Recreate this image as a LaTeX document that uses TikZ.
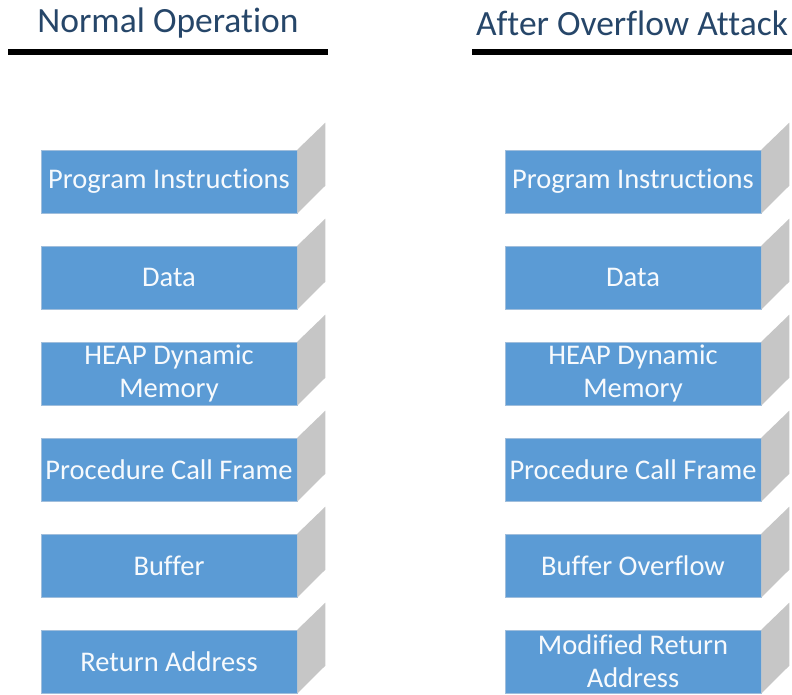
\documentclass[tikz,border=0pt]{standalone}
\usepackage{fontspec}
\setmainfont{Carlito}[Ligatures={NoCommon}]
\usetikzlibrary{positioning}
\newcommand*{\boxW}{256pt}
\newcommand*{\boxH}{63pt}
\newcommand*{\depthX}{28}
\newcommand*{\depthY}{27}
\definecolor{memBlue}{RGB}{91,155,213}
\definecolor{memEdge}{RGB}{160,190,220}
\definecolor{memSide}{RGB}{198,198,198}
\definecolor{titleBlue}{RGB}{38,70,105}

\tikzset{
  membox/.style={fill=memBlue,draw=memEdge,line width=0.8pt,text=white!95!memBlue,
    minimum width=\boxW,minimum height=\boxH,inner sep=0pt,align=center,
    font=\fontsize{28.5}{33}\selectfont},
  memside/.style={fill=memSide},
  headline/.style={text=titleBlue,font=\fontsize{35.5}{38}\selectfont,inner sep=0pt},
  rule/.style={line width=6pt,black}
}

\begin{document}
\begin{tikzpicture}[x=1pt,y=-1pt]
\useasboundingbox (0,0) rectangle (792,694);

% headings
\node[headline] (headL) at (168,23) {Normal Operation};
\node[headline] (headR) at (632,23) {After Overflow Attack};
\draw[rule] (8,52) -- (328,52);
\draw[rule] (472,52) -- (792,52);

% left stack
\foreach \txt [count=\i] in {Program Instructions,Data,{HEAP Dynamic\\Memory},Procedure Call Frame,Buffer,Return Address}{
  \node[membox] (L\i) at (169,{181.5+96*(\i-1)}) {\txt};
  \fill[memside] (L\i.north east) -- ++(\depthX,-\depthY) -- ++(0,63) -- (L\i.south east) -- cycle;
}

% right stack
\foreach \txt [count=\i] in {Program Instructions,Data,{HEAP Dynamic\\Memory},Procedure Call Frame,Buffer Overflow,{Modified Return\\Address}}{
  \node[membox] (R\i) at (633,{181.5+96*(\i-1)}) {\txt};
  \fill[memside] (R\i.north east) -- ++(\depthX,-\depthY) -- ++(0,63) -- (R\i.south east) -- cycle;
}
\end{tikzpicture}
\end{document}
